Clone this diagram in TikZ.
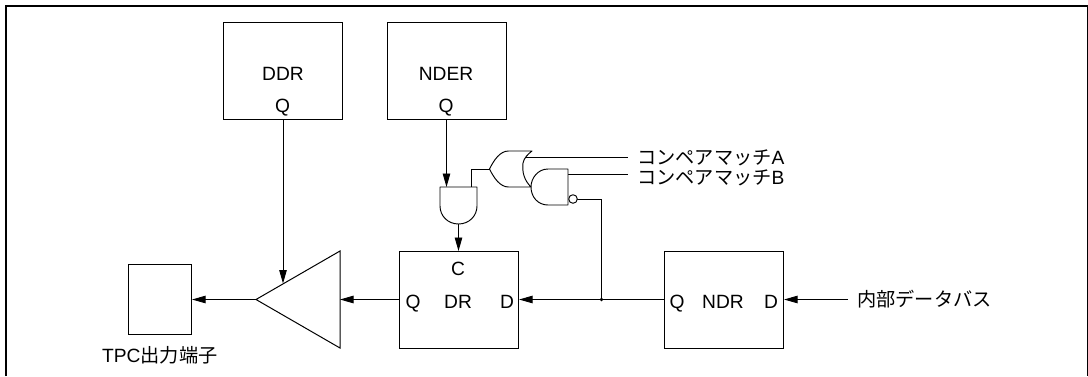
\documentclass[tikz,border=0pt]{standalone}
\usepackage{fontspec}
\setmainfont{Liberation Sans}
\newfontfamily\cjk{Noto Sans CJK JP}
\usetikzlibrary{arrows.meta}
\tikzset{
  x=1pt,y=-1pt,
  wire/.style={line width=0.9pt,black},
  arrowed/.style={wire,-{Triangle[length=13.5pt,width=7.5pt]}},
  box/.style={draw=black,line width=1.1pt,fill=white,rectangle,inner sep=0pt,anchor=north west},
  lab/.style={font=\fontsize{19.2}{22}\selectfont,inner sep=0pt,text=black,anchor=base},
  gate/.style={draw=black,line width=0.95pt,fill=white,line join=round}
}
\begin{document}
\begin{tikzpicture}
\useasboundingbox (0,0) rectangle (1088,376);
\draw[line width=1.6pt] (6,376) -- (6,6) -- (1087.3,6) -- (1087.3,376);
% boxes
\node[box,minimum width=119pt,minimum height=97pt] (ddr) at (223,22) {};
\node[box,minimum width=119pt,minimum height=97pt] (nder) at (387,22) {};
\node[box,minimum width=119pt,minimum height=97pt] (dr) at (399,251) {};
\node[box,minimum width=119pt,minimum height=97pt] (ndr) at (664,251) {};
\node[box,minimum width=63pt,minimum height=70pt] (pin) at (128,264) {};
\node[lab] (tddr) at (283,80) {DDR};
\node[lab] (qddr) at (282.5,112) {Q};
\node[lab] (tnder) at (446,80) {NDER};
\node[lab] (qnder) at (446,112) {Q};
\node[lab] (c) at (458,275) {C};
\node[lab] (qdr) at (413,308) {Q};
\node[lab] (tdr) at (458,308) {DR};
\node[lab] (ddr2) at (507,308) {D};
\node[lab] (qndr) at (677,308) {Q};
\node[lab] (tndr) at (723,308) {NDR};
\node[lab] (dndr) at (771,308) {D};
\node[lab,anchor=base west] (cma) at (637,164) {{\cjk コンペアマッチ}A};
\node[lab,anchor=base west] (cmb) at (637,184) {{\cjk コンペアマッチ}B};
\node[lab,anchor=base west] (bus) at (857,306) {{\cjk 内部データバス}};
\node[lab,anchor=base west] (tpc) at (102,362) {TPC{\cjk 出力端子}};
% buffer
\coordinate (bufin) at (340,299.5);
\coordinate (bufout) at (256,299.5);
\coordinate (bufctl) at (283,283.5);
\draw[wire,line width=1pt,line join=miter] (340,251) -- (256,299.5) -- (340,348) -- cycle;
% junction
\coordinate (jn) at (601.5,299.5);
\fill (jn) circle (1.9pt);
% anchors
\coordinate (andnder) at (446.5,187);
\coordinate (andr) at (471,187);
\coordinate (andout) at (458.5,224);
\coordinate (orout) at (489.5,169);
\coordinate (orina) at (525,157);
\coordinate (ena) at (628,157);
\coordinate (nandina) at (568,174);
\coordinate (enb) at (628,174);
\coordinate (nandout) at (577,199);
\coordinate (busend) at (848,299.5);
% connectors
\draw[arrowed] (ddr.south -| bufctl) -- (bufctl);
\draw[arrowed] (nder.south -| andnder) -- (andnder);
\draw[wire] (andr) -- (471,169) -- (orout);
\draw[arrowed] (andout) -- (dr.north -| andout);
\draw[wire] (orina) -- (ena);
\draw[wire] (nandina) -- (enb);
\draw[wire] (nandout) -- (nandout -| jn) -- (jn);
\draw[arrowed] (ndr.west |- jn) -- (dr.east |- jn);
\draw[arrowed] (dr.west |- jn) -- (bufin);
\draw[arrowed] (bufout) -- (pin.east |- bufout);
\draw[arrowed] (busend) -- (ndr.east |- busend);
% AND gate
\draw[gate] (440,187) -- (477,187) -- (477,206) .. controls (477,216) and (469,224) .. (458.5,224) .. controls (448,224) and (440,216) .. (440,206) -- cycle;
% OR gate
\draw[gate] (532,151) -- (508.5,151) .. controls (500,151) and (494,160) .. (489.5,169) .. controls (494,178) and (500,187) .. (508.5,187) -- (531,187) .. controls (524,180) and (522,172) .. (523,163) .. controls (524,158) and (528,154) .. (532,151) -- cycle;
% NAND gate
\draw[gate] (568,169) -- (548,169) .. controls (538,169) and (531,178) .. (531,187) .. controls (531,197) and (538,205) .. (548,205) -- (568,205) -- cycle;
\draw[gate] (573,199) circle (4.3pt);
\end{tikzpicture}
\end{document}
